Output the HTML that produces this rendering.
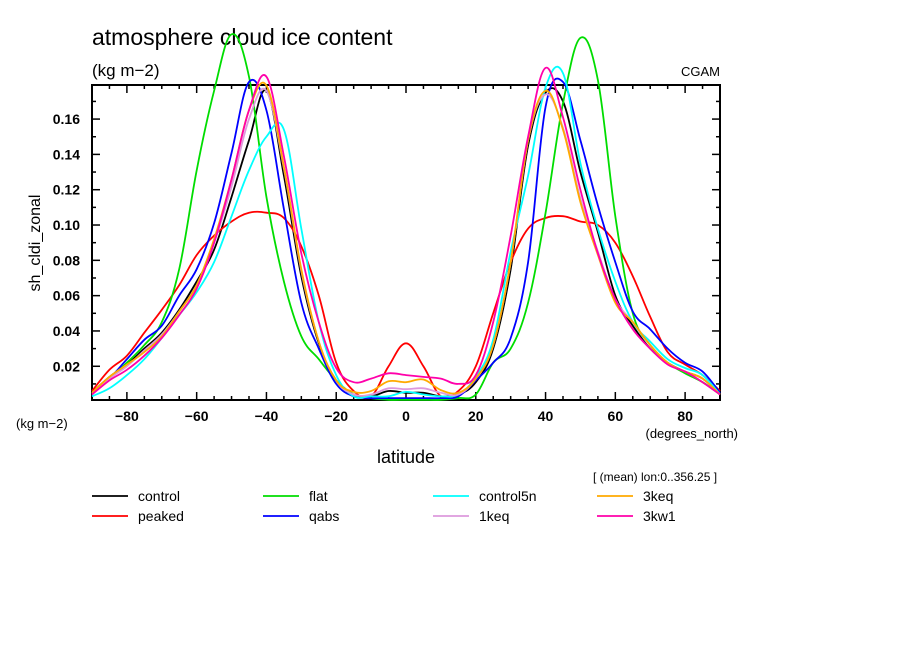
<!DOCTYPE html>
<html><head><meta charset="utf-8"><style>
body{margin:0;background:#fff;width:904px;height:654px;overflow:hidden;font-family:"Liberation Sans",sans-serif}
svg text{font-family:"Liberation Sans",sans-serif;fill:#000}
</style></head><body>
<svg id="chart" width="904" height="654">
<text x="92" y="45" font-size="23">atmosphere cloud ice content</text>
<text x="92" y="76" font-size="17">(kg m−2)</text>
<text x="720" y="76" font-size="13" text-anchor="end">CGAM</text>
<text x="0" y="0" font-size="16" text-anchor="middle" transform="translate(40,243) rotate(-90)">sh_cldi_zonal</text>
<text x="16" y="428" font-size="13">(kg m−2)</text>
<text x="738" y="438" font-size="13" text-anchor="end">(degrees_north)</text>
<text x="406" y="463" font-size="18" text-anchor="middle">latitude</text>
<text x="593" y="481" font-size="12">[ (mean) lon:0..356.25 ]</text>
<g id="axes"></g>
<g id="series"></g>
<g id="legend"></g>
</svg>
<script>
const lats=[-90,-85,-80,-75,-70,-65,-60,-55,-50,-45,-40,-35,-30,-25,-20,-15,-10,-5,0,5,10,15,20,25,30,35,40,45,50,55,60,65,70,75,80,85,90];
const seriesNames=["control","peaked","flat","qabs","control5n","1keq","3keq","3kw1"];
const seriesColors=["#000000","#ff0000","#00dd00","#0000ff","#00ffff","#dd99dd","#ffaa00","#ff00aa"];
const control=[0.005,0.014,0.021,0.03,0.039,0.052,0.068,0.086,0.116,0.148,0.176,0.128,0.071,0.033,0.012,0.004,0.003,0.006,0.005,0.005,0.003,0.004,0.011,0.03,0.075,0.145,0.175,0.17,0.13,0.096,0.06,0.043,0.03,0.022,0.017,0.013,0.004];
const peaked=[0.006,0.018,0.026,0.039,0.052,0.066,0.083,0.094,0.102,0.107,0.107,0.104,0.088,0.06,0.022,0.006,0.003,0.02,0.033,0.02,0.003,0.006,0.02,0.05,0.079,0.098,0.104,0.105,0.102,0.1,0.09,0.071,0.048,0.028,0.021,0.015,0.006];
const flat=[0.005,0.013,0.022,0.032,0.045,0.075,0.131,0.176,0.208,0.184,0.116,0.068,0.037,0.024,0.012,0.004,0.002,0.001,0.001,0.001,0.001,0.002,0.004,0.022,0.03,0.056,0.107,0.169,0.206,0.182,0.105,0.05,0.032,0.022,0.016,0.011,0.004];
const qabs=[0.005,0.013,0.024,0.035,0.043,0.06,0.075,0.101,0.141,0.181,0.165,0.109,0.056,0.03,0.01,0.003,0.002,0.002,0.002,0.002,0.002,0.003,0.012,0.022,0.036,0.079,0.167,0.181,0.148,0.111,0.079,0.051,0.041,0.03,0.022,0.017,0.005];
const control5n=[0.003,0.0075,0.015,0.024,0.036,0.049,0.062,0.079,0.105,0.131,0.15,0.154,0.098,0.045,0.015,0.003,0.003,0.003,0.0055,0.004,0.003,0.004,0.014,0.035,0.085,0.128,0.178,0.186,0.135,0.098,0.068,0.045,0.034,0.024,0.019,0.015,0.004];
const keq1=[0.004,0.013,0.02,0.029,0.038,0.051,0.066,0.09,0.122,0.16,0.176,0.132,0.074,0.034,0.012,0.004,0.004,0.0075,0.007,0.0075,0.005,0.004,0.013,0.032,0.079,0.148,0.174,0.155,0.115,0.085,0.058,0.045,0.032,0.022,0.017,0.013,0.004];
const keq3=[0.005,0.014,0.021,0.028,0.037,0.051,0.066,0.092,0.126,0.165,0.179,0.133,0.075,0.034,0.012,0.0055,0.006,0.0115,0.011,0.0125,0.0065,0.005,0.013,0.032,0.079,0.148,0.176,0.154,0.113,0.083,0.056,0.045,0.032,0.022,0.017,0.013,0.004];
const kw1=[0.004,0.012,0.018,0.026,0.036,0.049,0.064,0.09,0.126,0.165,0.184,0.139,0.084,0.045,0.019,0.011,0.013,0.016,0.015,0.014,0.013,0.01,0.015,0.045,0.094,0.15,0.189,0.161,0.12,0.084,0.058,0.041,0.03,0.021,0.017,0.011,0.004];
const allSeries=[control,peaked,flat,qabs,control5n,keq1,keq3,kw1];
const xTicks=[-80,-60,-40,-20,0,20,40,60,80];
const yTicks=[0.02,0.04,0.06,0.08,0.10,0.12,0.14,0.16];
const NS="http://www.w3.org/2000/svg";
const X0=92,X1=720,Y0=400,Y1=85,LAT0=-90,LAT1=90,V0=0.0009,V1=0.1793;
function xs(v){return X0+(v-LAT0)/(LAT1-LAT0)*(X1-X0);}
function ys(v){return Y0-(v-V0)/(V1-V0)*(Y0-Y1);}
function mk(tag,attrs,parent){const e=document.createElementNS(NS,tag);for(const k in attrs)e.setAttribute(k,attrs[k]);parent.appendChild(e);return e;}
function smoothPath(pts){let d='M'+pts[0][0].toFixed(1)+','+pts[0][1].toFixed(1);
 for(let i=0;i<pts.length-1;i++){const p0=pts[Math.max(0,i-1)],p1=pts[i],p2=pts[i+1],p3=pts[Math.min(pts.length-1,i+2)];const t=0.18;
  const c1=[p1[0]+(p2[0]-p0[0])*t,p1[1]+(p2[1]-p0[1])*t],c2=[p2[0]-(p3[0]-p1[0])*t,p2[1]-(p3[1]-p1[1])*t];
  d+=' C'+c1[0].toFixed(1)+','+c1[1].toFixed(1)+' '+c2[0].toFixed(1)+','+c2[1].toFixed(1)+' '+p2[0].toFixed(1)+','+p2[1].toFixed(1);}
 return d;}
const axes=document.getElementById('axes');
const frame=mk('rect',{x:X0,y:Y1,width:X1-X0,height:Y0-Y1,fill:'none',stroke:'#000','stroke-width':2},axes);


for(let l=-85;l<90;l+=5){const big=l%20===0;const h=big?8:4;
 const t=mk('line',{x1:xs(l),x2:xs(l),y1:Y0,y2:Y0-h,stroke:'#000','stroke-width':1.5},axes);
 
 const t2=mk('line',{x1:xs(l),x2:xs(l),y1:Y1,y2:Y1+h,stroke:'#000','stroke-width':1.5},axes);
 }
for(let v=0.01;v<0.179;v+=0.01){const big=Math.round(v*100)%2===0;const h=big?8:4;
 const t=mk('line',{x1:X0,x2:X0+h,y1:ys(v),y2:ys(v),stroke:'#000','stroke-width':1.5},axes);
 
 const t2=mk('line',{x1:X1,x2:X1-h,y1:ys(v),y2:ys(v),stroke:'#000','stroke-width':1.5},axes);
 }
xTicks.forEach(v=>{const t=mk('text',{x:xs(v),y:Y0+21,'font-size':14,'font-weight':'bold','text-anchor':'middle'},axes);t.textContent=(v<0?'−':'')+Math.abs(v);
 });
yTicks.forEach(v=>{const t=mk('text',{x:X0-12,y:ys(v)+5,'font-size':14,'font-weight':'bold','text-anchor':'end'},axes);t.textContent=v.toFixed(2);
 });
const sg=document.getElementById('series');
allSeries.forEach((s,i)=>{const pts=s.map((v,j)=>[xs(lats[j]),ys(v)]);
 const p=mk('path',{d:smoothPath(pts),fill:'none',stroke:seriesColors[i],'stroke-width':1.8,'stroke-linejoin':'round'},sg);
 });
const lg=document.getElementById('legend');
const cols=[92,263,433,597],order=[0,2,4,6,1,3,5,7];
order.forEach((si,k)=>{const c=k%4,r=Math.floor(k/4);const x=cols[c],y=496+r*20;
 const g=mk('g',{},lg);
 mk('line',{x1:x,x2:x+36,y1:y,y2:y,stroke:seriesColors[si],'stroke-width':1.8},g);
 const t=mk('text',{x:x+46,y:y+5,'font-size':14},g);t.textContent=seriesNames[si];});
</script>
</body></html>
